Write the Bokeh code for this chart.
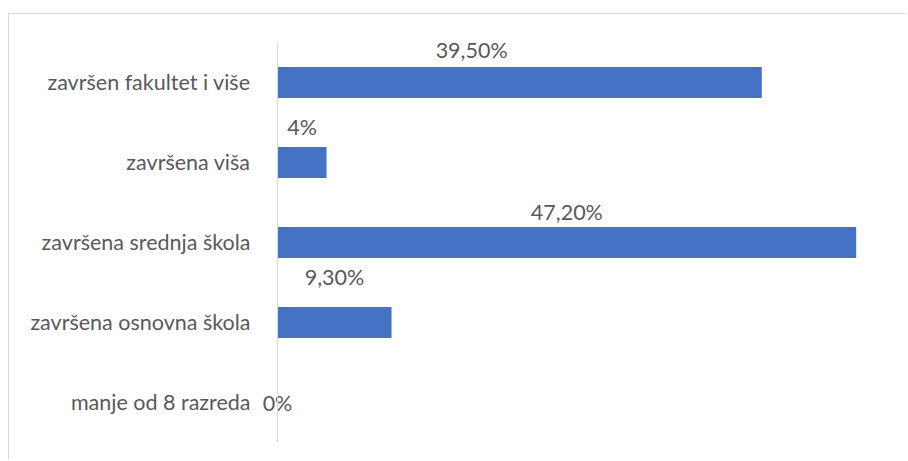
from bokeh.plotting import figure
from bokeh.models import ColumnDataSource, Range1d, FactorRange, Span
from bokeh.core.properties import value
from bokeh.embed import file_html
from bokeh.resources import INLINE

categories = ["završen fakultet i više", "završena viša", "završena srednja škola",
              "završena osnovna škola", "manje od 8 razreda"]
values = [39.5, 4.0, 47.2, 9.3, 0.0]
labels = ["39,50%", "4%", "47,20%", "9,30%", "0%"]
label_dx = [-48, 0, 0, 0, 0]
label_dy = [-33, -36, -31, -46, 0]

FONT = "Lato"
TXT = "#595959"
FS = "21.5px"

W, H = 898, 446
RIGHT_PAD = 17
AXIS_X = 268          # pixel position of the value axis inside the canvas
X_MAX = 50
frame_w = W - RIGHT_PAD
x_min = -AXIS_X * X_MAX / (frame_w - AXIS_X)

src = ColumnDataSource(dict(
    cat=categories, val=values, mid=[v / 2 for v in values], lab=labels,
    dx=label_dx, dy=label_dy,
))

p = figure(width=W, height=H, output_backend="svg", toolbar_location=None,
           y_range=FactorRange(*categories[::-1]), x_range=Range1d(x_min, X_MAX),
           min_border_left=0, min_border_top=28, min_border_bottom=18,
           min_border_right=RIGHT_PAD)
p.margin = (13, 0, 0, 8)
p.styles = {"border-left": "1px solid #d9d9d9", "border-top": "1px solid #d9d9d9"}
p.outline_line_color = None
p.background_fill_color = "white"
p.border_fill_color = "white"

p.hbar(y="cat", right="val", left=0, height=0.39, source=src,
       fill_color="#4472C4", line_color=None)

p.add_layout(Span(location=0, dimension="height", line_color="#d9d9d9", line_width=1))

# category names
p.text(x=0, y="cat", text="cat", source=src, x_offset=-27, y_offset=-1,
       text_align="right", text_baseline="middle", text_font=value(FONT),
       text_font_size=FS, text_color=TXT)

# data labels
p.text(x="mid", y="cat", text="lab", source=src, x_offset="dx", y_offset="dy",
       text_align="center", text_baseline="middle", text_font=value(FONT),
       text_font_size=FS, text_color=TXT)

p.xaxis.visible = False
p.yaxis.visible = False
p.xgrid.visible = False
p.ygrid.visible = False

open("out.html", "w").write(file_html(p, INLINE))
